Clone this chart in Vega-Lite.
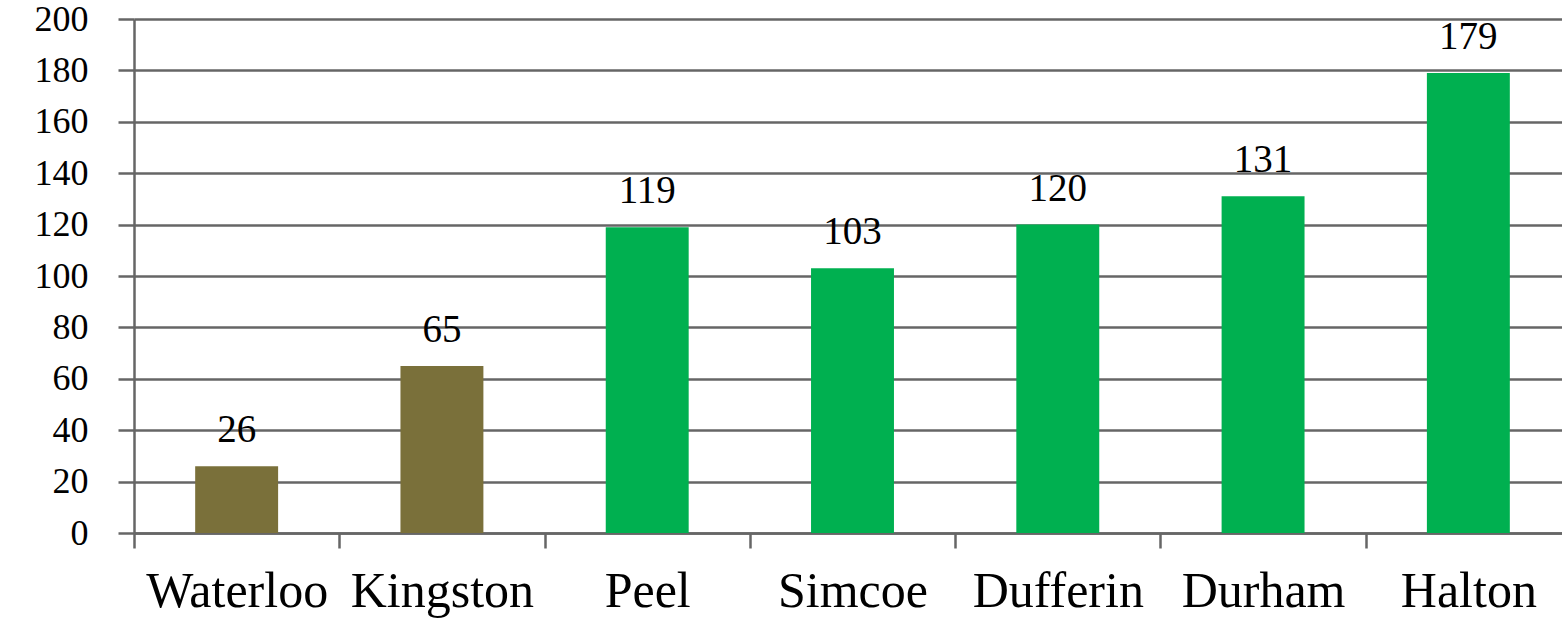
{
  "$schema": "https://vega.github.io/schema/vega-lite/v6.json",
  "width": 1428,
  "height": 514,
  "autosize": "none",
  "padding": {"left": 134, "top": 19, "right": 0, "bottom": 87},
  "background": "white",
  "data": {
    "values": [
      {"region": "Waterloo", "value": 26, "group": "a"},
      {"region": "Kingston", "value": 65, "group": "a"},
      {"region": "Peel", "value": 119, "group": "b"},
      {"region": "Simcoe", "value": 103, "group": "b"},
      {"region": "Dufferin", "value": 120, "group": "b"},
      {"region": "Durham", "value": 131, "group": "b"},
      {"region": "Halton", "value": 179, "group": "b"}
    ]
  },
  "config": {
    "view": {"stroke": null},
    "font": "Liberation Serif"
  },
  "encoding": {
    "x": {
      "field": "region",
      "type": "nominal",
      "sort": null,
      "scale": {"range": [0, 1437], "paddingInner": 0, "paddingOuter": 0},
      "axis": {
        "title": null,
        "labelAngle": 0,
        "labelFont": "Liberation Serif",
        "labelFontSize": 50,
        "labelColor": "#000000",
        "labelPadding": 18,
        "labelLimit": 0,
        "labelOverlap": false,
        "domainColor": "#666666",
        "domainWidth": 2.5,
        "tickColor": "#666666",
        "tickWidth": 2.5,
        "tickSize": 15,
        "tickBand": "extent",
        "grid": false
      }
    },
    "y": {
      "field": "value",
      "type": "quantitative",
      "scale": {"domain": [0, 200], "nice": false},
      "axis": {
        "title": null,
        "values": [0, 20, 40, 60, 80, 100, 120, 140, 160, 180, 200],
        "labelFont": "Liberation Serif",
        "labelFontSize": 36,
        "labelColor": "#000000",
        "labelPadding": 30,
        "labelBaseline": "middle",
        "grid": true,
        "gridColor": "#666666",
        "gridWidth": 2.5,
        "gridOpacity": 1,
        "domainColor": "#666666",
        "domainWidth": 2.5,
        "tickColor": "#666666",
        "tickWidth": 2.5,
        "tickSize": 16
      }
    }
  },
  "layer": [
    {
      "mark": {"type": "bar", "width": {"band": 0.404}},
      "encoding": {
        "color": {
          "field": "group",
          "type": "nominal",
          "scale": {"domain": ["a", "b"], "range": ["#7A703A", "#00B050"]},
          "legend": null
        }
      }
    },
    {
      "mark": {"type": "text", "baseline": "alphabetic", "dy": -24, "fontSize": 39, "font": "Liberation Serif", "color": "#000000"},
      "encoding": {
        "text": {"field": "value", "type": "quantitative"}
      }
    }
  ]
}
